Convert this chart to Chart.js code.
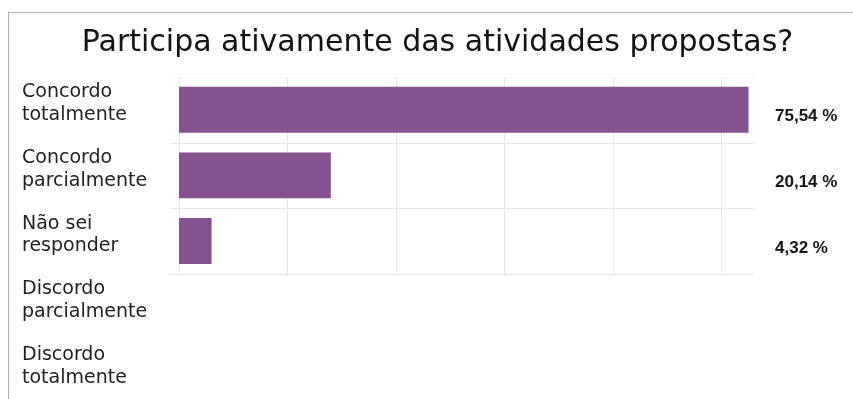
<!DOCTYPE html>
<html lang="pt">
<head>
<meta charset="utf-8">
<title>Participa ativamente das atividades propostas?</title>
<script src="https://cdn.jsdelivr.net/npm/chart.js@4/dist/chart.umd.min.js"></script>
<style>
  html, body { margin: 0; padding: 0; background: #fff; overflow: hidden; width: 853px; height: 399px; }
  #frame {
    position: absolute; left: 8px; top: 12px; right: 0; bottom: 0;
    border-top: 1px solid #b4b4b4; border-left: 1px solid #b4b4b4;
  }
  #wrap { position: absolute; left: 9px; top: 13px; width: 844px; height: 396px; }
</style>
</head>
<body>
<div id="frame"></div>
<div id="wrap"><canvas id="chart"></canvas></div>
<script>
// Survey answers, top to bottom
const categories = [
  ["Concordo", "totalmente"],
  ["Concordo", "parcialmente"],
  ["Não sei", "responder"],
  ["Discordo", "parcialmente"],
  ["Discordo", "totalmente"]
];
// Share of respondents per answer (%)
const shares = [75.54, 20.14, 4.32, 0, 0];
// Printed value labels (right-hand axis)
const shareLabels = ["75,54 %", "20,14 %", "4,32 %", "", ""];
// Vertical guide lines (every 20 respondents of 139, in %)
const gridMarks = [0, 14.39, 28.78, 43.17, 57.55, 71.94];
// Rows that carry the grid (answers that received votes)
const gridRows = 3;

const TEXT_FONT = "'DejaVu Sans', 'Liberation Sans', sans-serif";
const VALUE_FONT = "'Liberation Sans', Arial, sans-serif";

// Grid limited to the answered rows, drawn from the chart's own scales
const partialGrid = {
  id: 'partialGrid',
  beforeDatasetsDraw(chart) {
    const { ctx, chartArea, scales: { x, y } } = chart;
    const half = (y.getPixelForValue(1) - y.getPixelForValue(0)) / 2;
    const top = y.getPixelForValue(0) - half;
    const bottom = y.getPixelForValue(gridRows - 1) + half;
    ctx.save();
    ctx.lineWidth = 1;
    ctx.strokeStyle = '#e6e6e6';
    gridMarks.forEach(v => {
      const px = Math.round(x.getPixelForValue(v)) + 0.5;
      ctx.beginPath(); ctx.moveTo(px, top); ctx.lineTo(px, bottom); ctx.stroke();
    });
    for (let i = 0; i <= gridRows; i++) {
      const py = Math.round(y.getPixelForValue(i) - half) + 0.5;
      ctx.strokeStyle = i === 0 ? '#f3f3f3' : '#e6e6e6';
      ctx.beginPath(); ctx.moveTo(chartArea.left - 8, py); ctx.lineTo(chartArea.right + 2, py); ctx.stroke();
    }
    ctx.restore();
  }
};

// Axis boxes keep no extra room for overhanging labels
function noEndPadding(scale) {
  scale.paddingTop = 0;
  scale.paddingBottom = 0;
}

new Chart(document.getElementById('chart'), {
  type: 'bar',
  data: {
    labels: categories,
    datasets: [{
      data: shares,
      backgroundColor: '#86518f',
      borderWidth: 0,
      barPercentage: 0.7,
      categoryPercentage: 1.0
    }]
  },
  plugins: [partialGrid],
  options: {
    indexAxis: 'y',
    responsive: true,
    maintainAspectRatio: false,
    animation: false,
    layout: { padding: { left: 13, right: 0, top: 0, bottom: 4 } },
    plugins: {
      legend: { display: false },
      tooltip: { enabled: false },
      title: {
        display: true,
        text: 'Participa ativamente das atividades propostas?',
        color: '#141414',
        font: { family: TEXT_FONT, size: 30, weight: 'normal', lineHeight: 1.2 },
        padding: { top: 12, bottom: 16 }
      }
    },
    scales: {
      x: {
        display: false,
        min: 0,
        max: 76,
        grid: { display: false }
      },
      y: {
        grid: { display: false, drawTicks: false },
        border: { display: false },
        ticks: {
          crossAlign: 'far',
          labelOffset: -6,
          color: '#222',
          font: { family: TEXT_FONT, size: 19, lineHeight: 1.2 }
        },
        afterFit(scale) { scale.width = 157; noEndPadding(scale); }
      },
      y2: {
        type: 'category',
        position: 'right',
        labels: shareLabels,
        offset: true,
        grid: { display: false, drawTicks: false },
        border: { display: false },
        ticks: {
          padding: 23,
          labelOffset: 7,
          color: '#151515',
          font: { family: VALUE_FONT, size: 17, weight: 'bold' }
        },
        afterFit(scale) { scale.width = 101; noEndPadding(scale); }
      }
    }
  }
});
</script>
</body>
</html>
